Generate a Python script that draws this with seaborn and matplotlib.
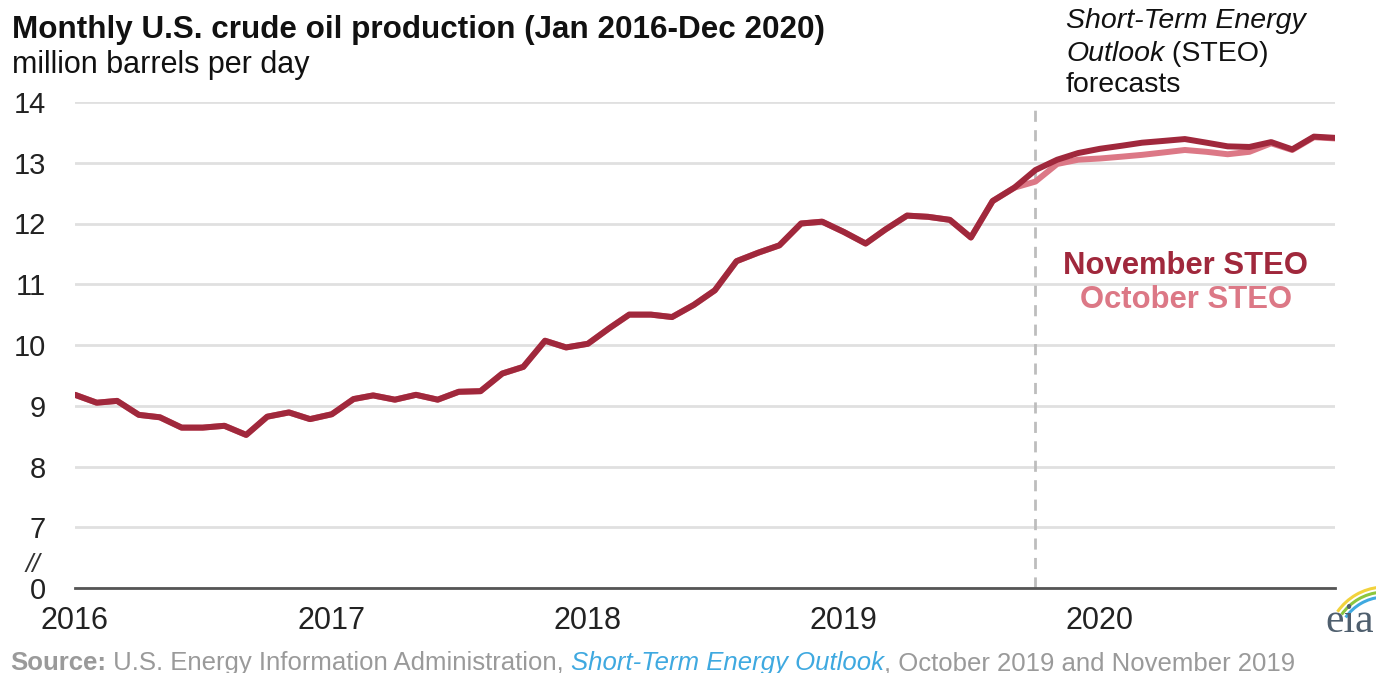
import pandas as pd
import matplotlib
matplotlib.use("Agg")
import matplotlib.pyplot as plt
import matplotlib.dates as mdates
from matplotlib.transforms import IdentityTransform
from matplotlib.patches import Arc
import seaborn as sns

# data (million barrels per day)
history = [9.18, 9.05, 9.08, 8.85, 8.81, 8.64, 8.64, 8.67, 8.52, 8.82, 8.89, 8.78,
           8.86, 9.11, 9.17, 9.10, 9.18, 9.10, 9.23, 9.24, 9.53, 9.64, 10.07, 9.96,
           10.02, 10.28, 10.50, 10.50, 10.46, 10.66, 10.90, 11.38, 11.52, 11.64, 12.00, 12.03,
           11.86, 11.67, 11.90, 12.13, 12.11, 12.06, 11.77, 12.37, 12.59]
nov_forecast = [12.88, 13.05, 13.16, 13.23, 13.28, 13.33, 13.36, 13.39,
                13.33, 13.27, 13.26, 13.34, 13.22, 13.43, 13.41]
oct_forecast = [12.69, 12.98, 13.05, 13.07, 13.10, 13.13, 13.17, 13.21,
                13.18, 13.14, 13.18, 13.32, 13.21, 13.42, 13.40]
months = pd.date_range("2016-01-01", periods=60, freq="MS")
series_names = ["October STEO", "November STEO"]
year_ticks = ["2016", "2017", "2018", "2019", "2020"]
y_ticks = [6, 7, 8, 9, 10, 11, 12, 13, 14]
y_labels = ["0", "7", "8", "9", "10", "11", "12", "13", "14"]

df = pd.concat([
    pd.DataFrame({"date": months, "value": history + oct_forecast, "series": "October STEO"}),
    pd.DataFrame({"date": months, "value": history + nov_forecast, "series": "November STEO"}),
])

NOV = "#A0283C"
OCT = "#DC7886"
W, H = 1376, 673

sns.set_style("white")
plt.rcParams["font.family"] = ["Liberation Sans", "DejaVu Sans"]

fig = plt.figure(figsize=(W / 100, H / 100), dpi=100)
ax = fig.add_axes([75 / W, 1 - 588 / H, (1335 - 75) / W, (588 - 102) / H])

sns.lineplot(data=df, x="date", y="value", hue="series", hue_order=series_names,
             palette={"October STEO": OCT, "November STEO": NOV},
             linewidth=4.3, legend=False, ax=ax, zorder=3)

ax.set_xlim(months[0], months[-1])
ax.set_ylim(6, 14)
ax.set_yticks(y_ticks)
ax.set_yticklabels(y_labels, fontsize=21, color="#222222")
ax.set_xticks([pd.Timestamp(y + "-01-01") for y in year_ticks])
ax.xaxis.set_major_formatter(mdates.DateFormatter("%Y"))
ax.tick_params(axis="x", labelsize=22, length=7, width=2, color="#555555",
               direction="out", pad=6, labelcolor="#222222")
ax.tick_params(axis="y", length=0, pad=21)
for lab in ax.get_yticklabels():
    lab.set_horizontalalignment("right")
ax.set_xlabel("")
ax.set_ylabel("")

ax.yaxis.grid(True, color="#E0E0E0", linewidth=2)
ax.xaxis.grid(False)
ax.set_axisbelow(True)
for s in ["top", "right", "left"]:
    ax.spines[s].set_visible(False)
ax.spines["bottom"].set_color("#555555")
ax.spines["bottom"].set_linewidth(2)

ax.axvline(pd.Timestamp("2019-10-01"), color="#BDBDBD", linewidth=2,
           linestyle=(0, (4, 3)), zorder=2)

ident = IdentityTransform()


def put(x, y, s, **kw):
    return fig.text(x, H - y, s, transform=ident, **kw)


def chain(x, y, parts, size):
    r = fig.canvas.get_renderer()
    for s, kw in parts:
        t = put(x, y, s, fontsize=size, va="baseline", **kw)
        x = t.get_window_extent(r).x1


put(12, 38, "Monthly U.S. crude oil production (Jan 2016-Dec 2020)",
    fontsize=22.6, fontweight="bold", color="#111111", va="baseline")
put(12, 73, "million barrels per day", fontsize=22, color="#111111", va="baseline")

put(40, 572, "//", fontsize=19, style="italic", color="#333333", ha="right", va="baseline")

put(1066, 28, "Short-Term Energy", fontsize=20.5, style="italic", color="#111111", va="baseline")
chain(1066, 61, [("Outlook", {"style": "italic", "color": "#111111"}),
                 (" (STEO)", {"color": "#111111"})], 20.5)
put(1066, 92, "forecasts", fontsize=20.5, color="#111111", va="baseline")

put(1185, 266, "November STEO", fontsize=22.3, fontweight="bold", color=NOV,
    ha="center", va="center")
put(1186, 300, "October STEO", fontsize=22.3, fontweight="bold", color=OCT,
    ha="center", va="center")

gray = "#9A9A9A"
chain(10, 670, [("Source:", {"fontweight": "bold", "color": gray}),
                (" U.S. Energy Information Administration, ", {"color": gray}),
                ("Short-Term Energy Outlook", {"style": "italic", "color": "#3FA9E0"}),
                (", October 2019 and November 2019", {"color": gray})], 18.5)

# eia logo
put(1350, 632, "eia", fontsize=30, family="Liberation Serif", color="#4F5F6E",
    ha="center", va="baseline")
for rad, col in [(58, "#F2D23C"), (53, "#8CC63F"), (48, "#3FA9E0")]:
    fig.add_artist(Arc((1385, H - 645), 2 * rad, 2 * rad, theta1=95, theta2=145,
                       color=col, linewidth=2.2, transform=ident))

fig.savefig("out.png", dpi=100)
